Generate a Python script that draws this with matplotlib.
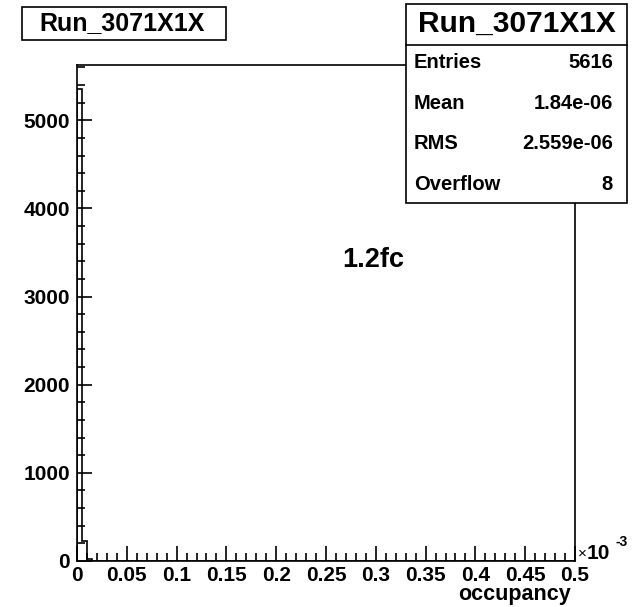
import numpy as np
import matplotlib.pyplot as plt
from matplotlib.patches import Rectangle
from matplotlib.ticker import MultipleLocator

plt.rcParams['font.family'] = ['Liberation Sans', 'DejaVu Sans']
plt.rcParams['font.weight'] = 'bold'

run_name = "Run_3071X1X"
x_label = "occupancy"
annotation = "1.2fc"

# occupancy histogram, 100 bins on [0, 0.5] x 1e-3, only the first bins are filled
n_bins = 100
x_max = 0.5
filled_counts = [5360, 228, 20]
stat_names = ["Entries", "Mean", "RMS", "Overflow"]
stat_values = ["5616", "1.84e-06", "2.559e-06", "8"]

counts = np.zeros(n_bins)
counts[:len(filled_counts)] = filled_counts
edges = np.linspace(0, x_max, n_bins + 1)

W, H = 640, 607
fig = plt.figure(figsize=(W / 100, H / 100), dpi=100)
ax = fig.add_axes([77 / W, 1 - 561 / H, 498 / W, 496 / H])

ax.stairs(counts, edges, color='black', linewidth=1.2)
ax.set_xlim(0, x_max)
ax.set_ylim(0, counts.max() * 1.05)

for s in ax.spines.values():
    s.set_linewidth(1.2)

ax.xaxis.set_major_locator(MultipleLocator(0.05))
ax.xaxis.set_minor_locator(MultipleLocator(0.01))
ax.yaxis.set_major_locator(MultipleLocator(1000))
ax.yaxis.set_minor_locator(MultipleLocator(200))
ax.tick_params(which='both', direction='in', top=False, right=False, width=1.2)
ax.tick_params(which='major', length=11, labelsize=15)
ax.tick_params(which='minor', length=5.5)
ax.tick_params(axis='x', pad=3.5)
ax.tick_params(axis='y', pad=5)
ax.set_xticks(np.arange(0, 0.501, 0.05))
ax.set_xticklabels(["0", "0.05", "0.1", "0.15", "0.2", "0.25", "0.3", "0.35",
                    "0.4", "0.45", "0.5"])
for lbl in ax.get_xticklabels() + ax.get_yticklabels():
    lbl.set_fontweight('bold')

# axis exponent: x10^-3
fig.text(578 / W, 1 - 558 / H, "\u00d7", fontsize=11, fontweight='normal',
         ha='left', va='baseline')
fig.text(587 / W, 1 - 559 / H, "10", fontsize=15, ha='left', va='baseline')
fig.text(615 / W, 1 - 546 / H, "-3", fontsize=10, ha='left', va='baseline')

fig.text(571 / W, 1 - 600 / H, x_label, fontsize=15.5, ha='right', va='baseline',
         fontweight='bold')
fig.text(373 / W, 1 - 267 / H, annotation, fontsize=19.5,
         ha='center', va='baseline', fontweight='bold')

# title box
fig.patches.append(Rectangle((22 / W, 1 - 40 / H), 204 / W, 33 / H,
                             transform=fig.transFigure, facecolor='white',
                             edgecolor='black', linewidth=1.2, zorder=5))
fig.text(122 / W, 1 - 23.5 / H, run_name, fontsize=18, ha='center', va='center',
         fontweight='bold', zorder=6)

# stats box
bx0, bx1, by0, by1 = 406, 627, 4, 203
fig.patches.append(Rectangle((bx0 / W, 1 - by1 / H), (bx1 - bx0) / W,
                             (by1 - by0) / H, transform=fig.transFigure,
                             facecolor='white', edgecolor='black', linewidth=1.2,
                             zorder=5))
fig.lines.append(plt.Line2D([bx0 / W, bx1 / W], [1 - 45 / H, 1 - 45 / H],
                            transform=fig.transFigure, color='black',
                            linewidth=1.2, zorder=6))
fig.text((bx0 + bx1) / 2 / W, 1 - 24 / H, run_name, fontsize=21.5,
         ha='center', va='center', fontweight='bold', zorder=6)
for i, (name, val) in enumerate(zip(stat_names, stat_values)):
    y = 1 - (63 + 40.5 * i) / H
    fig.text(414 / W, y, name, fontsize=14.5, ha='left', va='center',
             fontweight='bold', zorder=6)
    fig.text(613 / W, y, val, fontsize=14.5, ha='right', va='center',
             fontweight='bold', zorder=6)

fig.savefig("out.png", dpi=100)
